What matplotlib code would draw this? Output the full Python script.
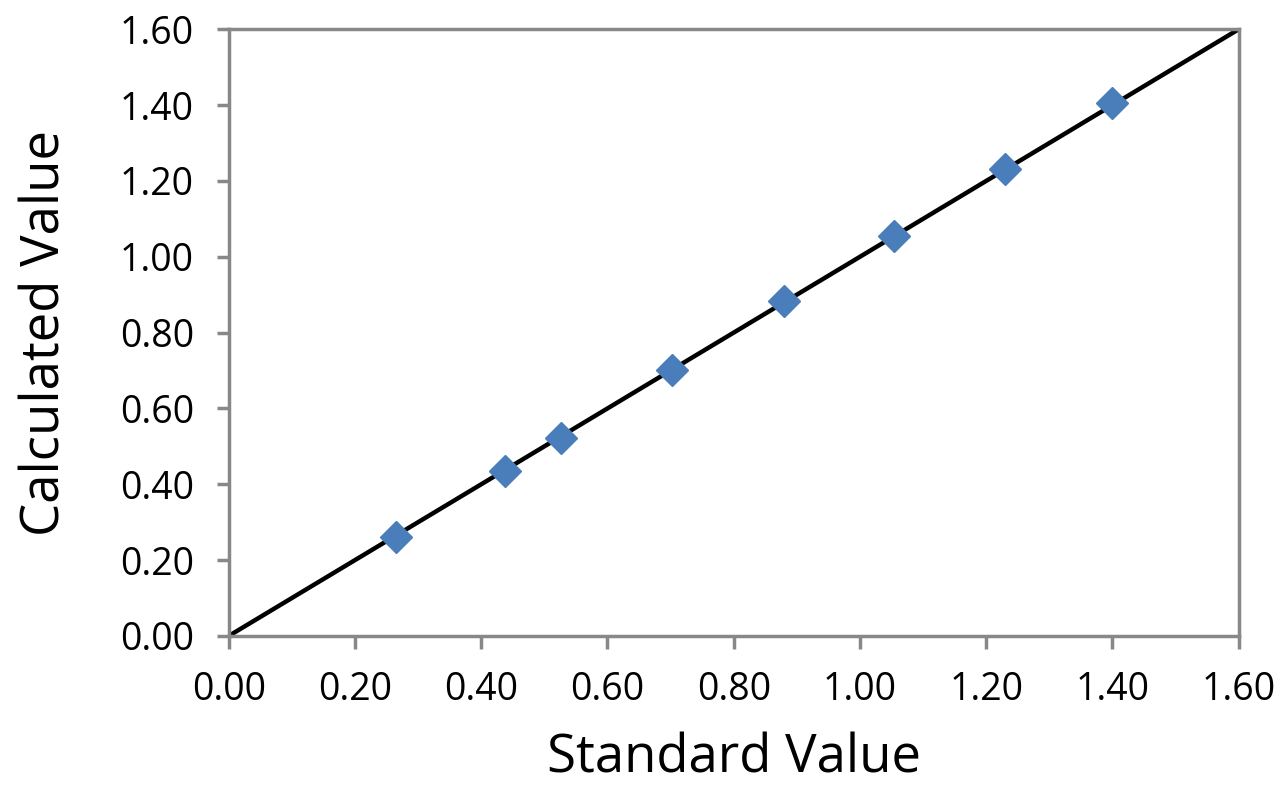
import matplotlib
matplotlib.use("Agg")
from matplotlib import pyplot as plt
from matplotlib.ticker import FormatStrFormatter

standard = [0.265, 0.438, 0.527, 0.702, 0.879, 1.054, 1.229, 1.400]
calculated = [0.262, 0.435, 0.523, 0.701, 0.883, 1.054, 1.231, 1.405]
fit_x = [0.0, 1.6]
fit_y = [0.0, 1.6]
ticks = [0.0, 0.2, 0.4, 0.6, 0.8, 1.0, 1.2, 1.4, 1.6]

plt.rcParams["font.family"] = ["Open Sans", "DejaVu Sans"]

fig = plt.figure(figsize=(12.85, 7.9), dpi=100)
ax = fig.add_axes([0.178, 0.195, 0.786, 0.768])

ax.plot(fit_x, fit_y, color="black", linewidth=3.2, zorder=2)
ax.plot(standard, calculated, linestyle="none", marker="D", markersize=16,
        color="#4A7EBB", zorder=3)

ax.set_xlim(0, 1.6)
ax.set_ylim(0, 1.6)
ax.set_xticks(ticks)
ax.set_yticks(ticks)
ax.xaxis.set_major_formatter(FormatStrFormatter("%.2f"))
ax.yaxis.set_major_formatter(FormatStrFormatter("%.2f"))

for s in ax.spines.values():
    s.set_color("#888888")
    s.set_linewidth(2.5)
ax.tick_params(axis="both", direction="out", length=9, width=2.5, color="#888888",
               labelsize=27)
ax.tick_params(axis="y", pad=16)
ax.tick_params(axis="x", pad=16)

ax.set_xlabel("Standard Value", fontsize=38, labelpad=17)
ax.set_ylabel("Calculated Value", fontsize=38, labelpad=34)

fig.savefig("out.png", dpi=100)
